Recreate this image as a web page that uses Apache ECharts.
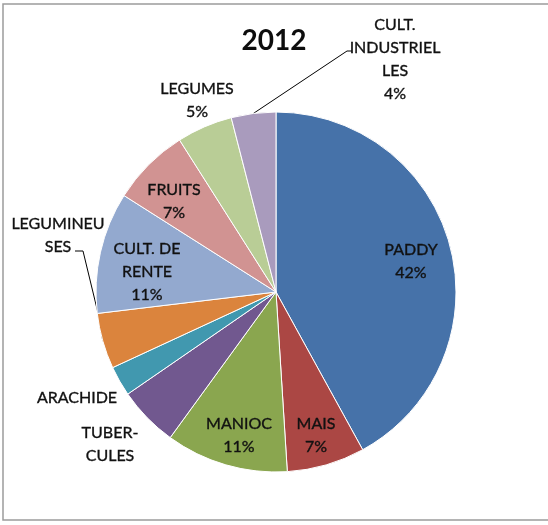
<!DOCTYPE html>
<html>
<head>
<meta charset="utf-8">
<script src="https://cdn.jsdelivr.net/npm/echarts@6/dist/echarts.min.js"></script>
<style>
  html, body { margin: 0; padding: 0; background: #ffffff; }
  #chart { width: 548px; height: 525px; }
</style>
</head>
<body>
<div id="chart"></div>
<script>
// Répartition des surfaces cultivées, 2012 (parts en %)
const categories = ['PADDY', 'MAIS', 'MANIOC', 'TUBERCULES', 'ARACHIDE', 'LEGUMINEUSES',
                    'CULT. DE RENTE', 'FRUITS', 'LEGUMES', 'CULT. INDUSTRIELLES'];
const shares = [42, 7, 11, 5.4, 2.7, 5.0, 10.9, 7, 5, 4];

// Label text as it wraps in the label boxes
const labelLines = [['PADDY'], ['MAIS'], ['MANIOC'], ['TUBER-', 'CULES'], ['ARACHIDE'],
                    ['LEGUMINEU', 'SES'], ['CULT. DE', 'RENTE'], ['FRUITS'], ['LEGUMES'],
                    ['CULT.', 'INDUSTRIEL', 'LES']];
const showPercent = [true, true, true, false, false, false, true, true, true, true];

const colors = ['#4672A9', '#AB4744', '#8AA64F', '#71588F', '#4198AF', '#DB843D',
                '#93A9CF', '#D19392', '#B9CD96', '#A99BBD'];

// Label block centres and leader-line elbows (styling only)
const labelPos = [[411, 261], [316, 435], [239, 435], [110, 444], [77, 398],
                  [58, 235], [147, 272], [174, 201], [197, 100], [395, 59]];
const leaderElbows = { 5: [[98, 313], [83, 251], [75, 251]], 9: [[347, 51], [352, 51]] };

const FONT = 'Lato, "Open Sans", sans-serif';
const TEXT_COLOR = '#111111';

const chart = echarts.init(document.getElementById('chart'), null, { renderer: 'canvas' });

const seriesData = categories.map((name, i) => ({
  name: name,
  value: shares[i],
  itemStyle: { color: colors[i] },
  label: { position: leaderElbows[i] ? 'outside' : 'inside' },
  labelLine: { show: !!leaderElbows[i] }
}));

chart.setOption({
  animation: false,
  backgroundColor: '#ffffff',
  title: {
    text: '2012',
    left: 'center',
    top: 22,
    textStyle: { fontFamily: FONT, fontSize: 28, fontWeight: 'bold', color: '#0d0d0d' }
  },
  graphic: [{
    type: 'rect',
    shape: { x: 3, y: 4, width: 570, height: 516 },
    style: { fill: 'none', stroke: '#9c9c9c', lineWidth: 1.5 },
    silent: true
  }],
  series: [{
    type: 'pie',
    center: [276, 292],
    radius: 180,
    startAngle: 90,
    clockwise: true,
    avoidLabelOverlap: false,
    silent: true,
    itemStyle: { borderColor: '#ffffff', borderWidth: 1 },
    label: {
      show: true,
      fontFamily: FONT,
      fontSize: 16,
      lineHeight: 23,
      color: TEXT_COLOR,
      textBorderColor: TEXT_COLOR,
      textBorderWidth: 0.35,
      align: 'center',
      formatter: function (p) {
        const i = p.dataIndex;
        let s = labelLines[i].join('\n');
        if (showPercent[i]) s += '\n' + Math.round(p.percent) + '%';
        return s;
      }
    },
    labelLine: { lineStyle: { color: '#000000', width: 1 }, length: 10, length2: 10 },
    labelLayout: function (params) {
      const i = params.dataIndex;
      const out = {
        x: labelPos[i][0],
        y: labelPos[i][1],
        align: 'center',
        verticalAlign: 'middle'
      };
      if (leaderElbows[i] && params.labelLinePoints) {
        out.labelLinePoints = [params.labelLinePoints[0]].concat(leaderElbows[i]);
      }
      return out;
    },
    data: seriesData
  }]
});
</script>
</body>
</html>
